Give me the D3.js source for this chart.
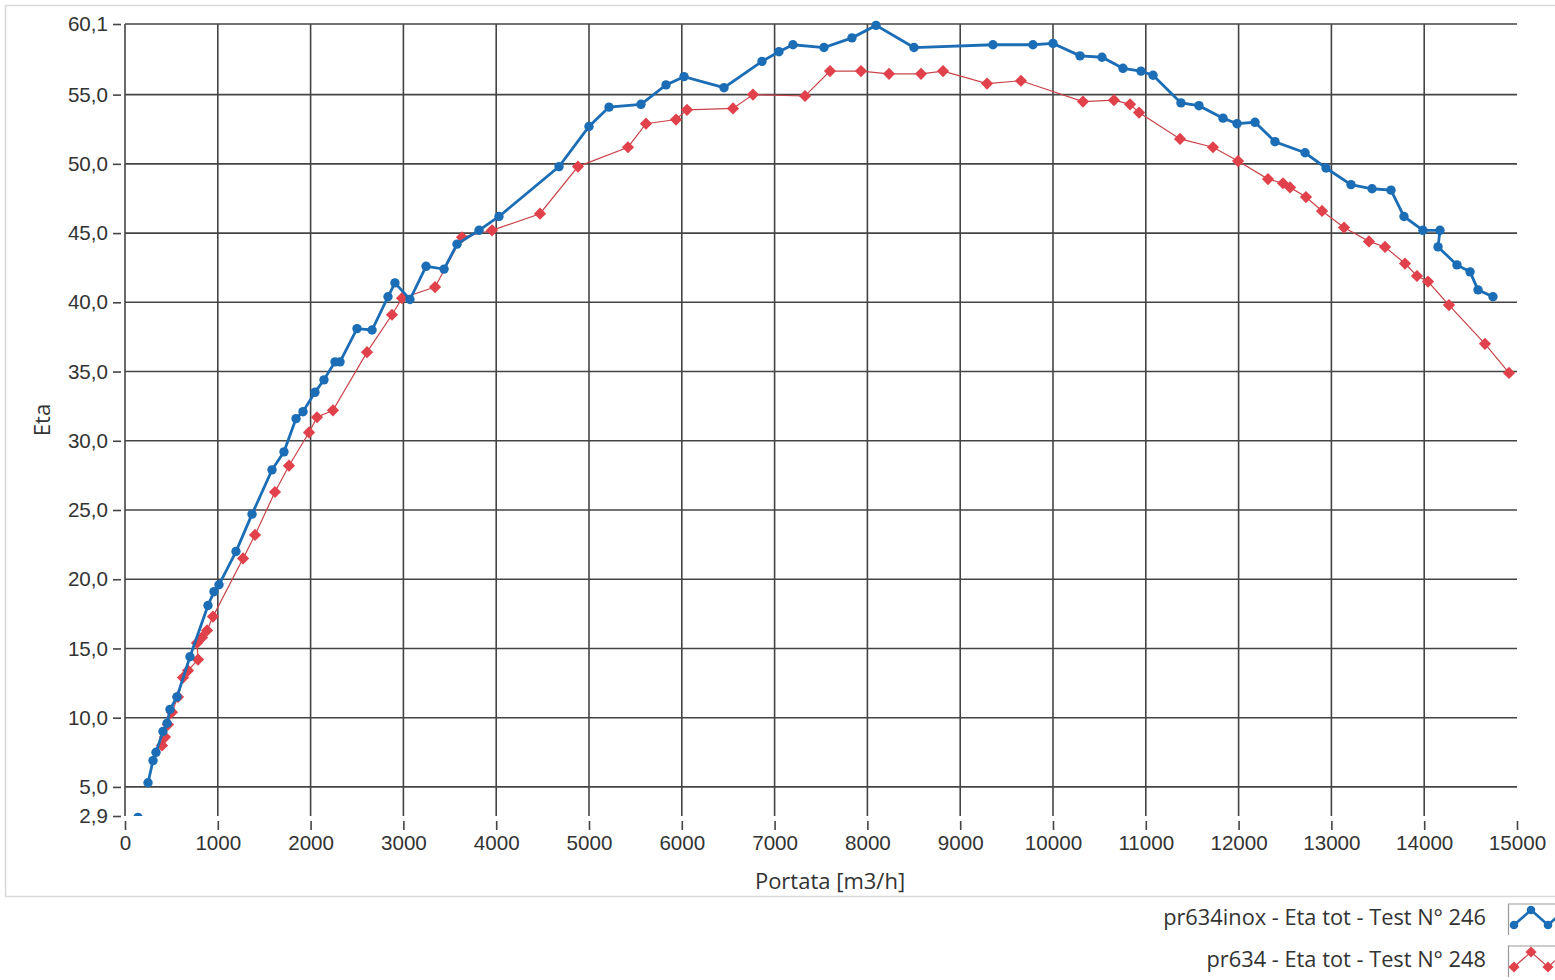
<!DOCTYPE html>
<html>
<head>
<meta charset="utf-8">
<script src="https://cdn.jsdelivr.net/npm/d3@7"></script>
<style>
  body { margin: 0; background: #fff; }
  svg { display: block; font-family: "Open Sans", "Noto Sans", sans-serif; }
  .tick-label { fill: #333; font-size: 20.6px; }
  .axis-label { fill: #333; font-size: 22px; }
  .legend-text { fill: #333; font-size: 21.8px; }
</style>
</head>
<body>
<div id="chart"></div>
<script>
// Portata [m3/h] / Eta values
const blueX = [140, 248, 302, 334, 409, 453, 485, 560, 700, 894, 959, 1013, 1196, 1369, 1584, 1713, 1843, 1918,
  2047, 2144, 2263, 2317, 2500, 2662, 2834, 2909, 3071, 3244, 3438, 3578, 3815, 4030, 4677, 5000, 5216, 5560,
  5830, 6024, 6455, 6864, 7047, 7198, 7532, 7834, 8093, 8502, 9353, 9784, 10000, 10291, 10528, 10754, 10948,
  11078, 11379, 11573, 11832, 11983, 12177, 12392, 12716, 12942, 13211, 13438, 13642, 13782, 13987, 14170,
  14149, 14353, 14494, 14580, 14741];
const blueY = [2.8, 5.3, 6.9, 7.5, 9.0, 9.6, 10.6, 11.5, 14.4, 18.1, 19.1, 19.6, 22.0, 24.7, 27.9, 29.2, 31.6, 32.1,
  33.5, 34.4, 35.7, 35.7, 38.1, 38.0, 40.4, 41.4, 40.2, 42.6, 42.4, 44.2, 45.2, 46.2, 49.8, 52.7, 54.1, 54.3,
  55.7, 56.3, 55.5, 57.4, 58.1, 58.6, 58.4, 59.1, 60.0, 58.4, 58.6, 58.6, 58.7, 57.8, 57.7, 56.9, 56.7,
  56.4, 54.4, 54.2, 53.3, 52.9, 53.0, 51.6, 50.8, 49.7, 48.5, 48.2, 48.1, 46.2, 45.2, 45.2,
  44.0, 42.7, 42.2, 40.9, 40.4];

const redX = [399, 431, 463, 506, 571, 625, 679, 787, 776, 830, 884, 948, 1272, 1401, 1616, 1767, 1983, 2069,
  2241, 2608, 2877, 2985, 3341, 3631, 3955, 4472, 4881, 5420, 5614, 5938, 6056, 6552, 6767, 7328, 7597, 7931,
  8233, 8578, 8815, 9289, 9655, 10323, 10657, 10830, 10927, 11369, 11724, 11994, 12317, 12478, 12554, 12726,
  12899, 13136, 13405, 13578, 13793, 13922, 14041, 14267, 14655, 14914];
const redY = [8.0, 8.6, 9.5, 10.4, 11.5, 12.9, 13.4, 14.2, 15.4, 15.8, 16.3, 17.3, 21.5, 23.2, 26.3, 28.2, 30.6, 31.7,
  32.2, 36.4, 39.1, 40.3, 41.1, 44.7, 45.2, 46.4, 49.8, 51.2, 52.9, 53.2, 53.9, 54.0, 55.0, 54.9, 56.7, 56.7,
  56.5, 56.5, 56.7, 55.8, 56.0, 54.5, 54.6, 54.3, 53.7, 51.8, 51.2, 50.2, 48.9, 48.6, 48.3, 47.6,
  46.6, 45.4, 44.4, 44.0, 42.8, 41.9, 41.5, 39.8, 37.0, 34.9];

const xTicks = [0, 1000, 2000, 3000, 4000, 5000, 6000, 7000, 8000, 9000, 10000, 11000, 12000, 13000, 14000, 15000];
const yTicks = [2.9, 5, 10, 15, 20, 25, 30, 35, 40, 45, 50, 55, 60.1];

const seriesNames = ["pr634inox - Eta tot - Test N° 246", "pr634 - Eta tot - Test N° 248"];
const BLUE = "#1b6db5";
const RED = "#e0414b";

const W = 1555, H = 980;
const svg = d3.select("#chart").append("svg")
    .attr("width", W)
    .attr("height", H);

// outer frame
svg.append("rect")
    .attr("x", 5.5).attr("y", 5.5)
    .attr("width", W).attr("height", 891)
    .attr("fill", "none")
    .attr("stroke", "#d9d9d9")
    .attr("stroke-width", 1.5);

const x = d3.scaleLinear().domain([0, 15000]).range([125, 1517]);
const y = d3.scaleLinear().domain([2.9, 60.1]).range([816, 24]);
const fmtY = d => d3.format(".1f")(d).replace(".", ",");

// grid
const grid = svg.append("g").attr("stroke", "#444").attr("stroke-width", 1.6);
xTicks.filter(t => t > 0 && t < 15000).forEach(t => {
    grid.append("line")
        .attr("x1", x(t)).attr("x2", x(t))
        .attr("y1", y(60.1)).attr("y2", y(2.9));
});
yTicks.filter(t => t > 2.9).forEach(t => {
    grid.append("line")
        .attr("x1", x(0)).attr("x2", x(15000))
        .attr("y1", y(t)).attr("y2", y(t));
});
// left axis line
grid.append("line")
    .attr("x1", x(0)).attr("x2", x(0))
    .attr("y1", y(60.1)).attr("y2", y(2.9));

// y axis (tick marks sit a little off the axis line)
const yAxis = svg.append("g")
    .attr("transform", `translate(${x(0) - 4},0)`)
    .call(d3.axisLeft(y).tickValues(yTicks).tickFormat(fmtY).tickSize(8).tickPadding(5));
yAxis.select(".domain").remove();
yAxis.selectAll(".tick line").attr("stroke", "#444").attr("stroke-width", 1.6);
yAxis.selectAll(".tick text").attr("class", "tick-label").attr("font-size", null).attr("font-family", null);

// x axis
const xAxis = svg.append("g")
    .attr("transform", `translate(0,${y(2.9) + 5})`)
    .call(d3.axisBottom(x).tickValues(xTicks).tickFormat(d3.format("d")).tickSize(9).tickPadding(5));
xAxis.select(".domain").remove();
xAxis.selectAll(".tick line").attr("stroke", "#444").attr("stroke-width", 1.6);
xAxis.selectAll(".tick text").attr("class", "tick-label").attr("font-size", null).attr("font-family", null);

// axis titles
svg.append("text")
    .attr("class", "axis-label")
    .attr("x", 830).attr("y", 889)
    .attr("text-anchor", "middle")
    .text("Portata [m3/h]");

svg.append("text")
    .attr("class", "axis-label")
    .attr("transform", "translate(50,420) rotate(-90)")
    .attr("text-anchor", "middle")
    .text("Eta");

// plot clip
svg.append("clipPath").attr("id", "plot-clip")
    .append("rect")
    .attr("x", x(0)).attr("y", y(60.1) - 6)
    .attr("width", x(15000) - x(0) + 10)
    .attr("height", y(2.9) - y(60.1) + 6);

const plot = svg.append("g").attr("clip-path", "url(#plot-clip)");

const line = d3.line()
    .x(d => x(d[0]))
    .y(d => y(d[1]));

const blueData = blueX.map((v, i) => [v, blueY[i]]);
const redData = redX.map((v, i) => [v, redY[i]]);

// red series (thin line, diamond markers)
plot.append("path")
    .datum(redData)
    .attr("d", line)
    .attr("fill", "none")
    .attr("stroke", "#c8444a")
    .attr("stroke-width", 1.2);

plot.selectAll(".red-dot")
    .data(redData)
    .enter().append("path")
    .attr("class", "red-dot")
    .attr("transform", d => `translate(${x(d[0])},${y(d[1])})`)
    .attr("d", d3.symbol(d3.symbolDiamond2, 95))
    .attr("fill", RED);

// blue series (thick line, round markers)
plot.append("path")
    .datum(blueData.slice(1))
    .attr("d", line)
    .attr("fill", "none")
    .attr("stroke", BLUE)
    .attr("stroke-width", 2.8);

plot.selectAll(".blue-dot")
    .data(blueData)
    .enter().append("circle")
    .attr("class", "blue-dot")
    .attr("cx", d => x(d[0]))
    .attr("cy", d => y(d[1]))
    .attr("r", 4.7)
    .attr("fill", BLUE);

// legend
const legendData = [
    { name: seriesNames[0], color: BLUE, width: 2.6, sym: "circle" },
    { name: seriesNames[1], color: RED, width: 1.2, sym: "diamond" }
];
legendData.forEach((s, i) => {
    const cy = 918 + i * 42;
    const g = svg.append("g");
    g.append("text")
        .attr("class", "legend-text")
        .attr("x", 1486).attr("y", cy + 7)
        .attr("text-anchor", "end")
        .text(s.name);

    const top = cy - 14;
    g.append("path")
        .attr("d", `M1560,${top} H1508.5 V${top + 31}`)
        .attr("fill", "none")
        .attr("stroke", "#999")
        .attr("stroke-width", 1.2);

    const pts = [[1514, cy + 7], [1531, cy - 8], [1548, cy + 7], [1565, cy - 8]];
    g.append("path")
        .attr("d", d3.line()(pts))
        .attr("fill", "none")
        .attr("stroke", s.sym === "circle" ? s.color : "#c8444a")
        .attr("stroke-width", s.width);
    pts.forEach(p => {
        if (s.sym === "circle") {
            g.append("circle").attr("cx", p[0]).attr("cy", p[1]).attr("r", 4.3).attr("fill", s.color);
        } else {
            g.append("path")
                .attr("transform", `translate(${p[0]},${p[1]})`)
                .attr("d", d3.symbol(d3.symbolDiamond2, 80))
                .attr("fill", s.color);
        }
    });
});
</script>
</body>
</html>
